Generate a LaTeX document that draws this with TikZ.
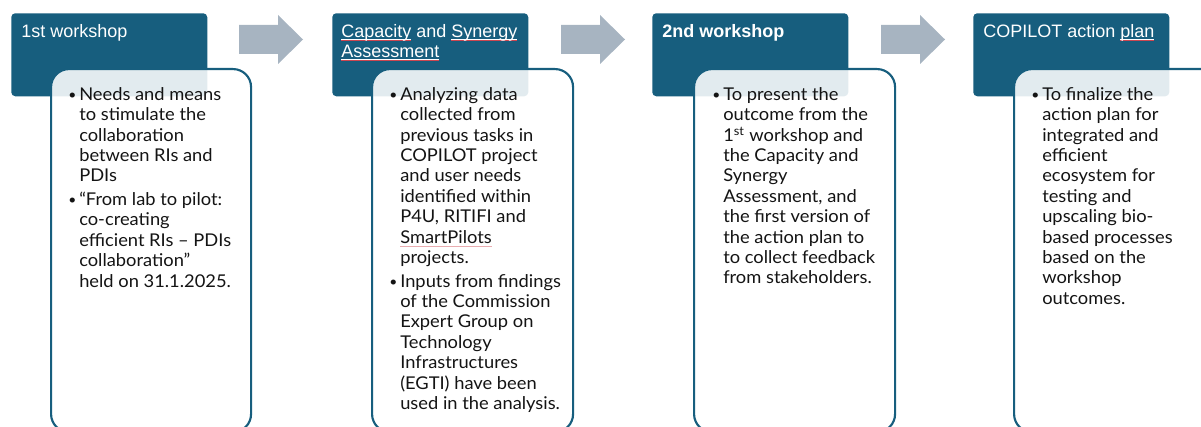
\documentclass[tikz,border=0pt]{standalone}
\usepackage{fontspec}
\setmainfont{Lato}[FakeStretch=1.04]
\newfontfamily\hdrfont{Liberation Sans}
\definecolor{hdrblue}{RGB}{23,94,126}
\definecolor{arrowgrey}{RGB}{167,180,193}
\definecolor{spellred}{RGB}{205,70,80}
\definecolor{bodytext}{RGB}{20,20,20}
\newcommand\hdrul[1]{\setbox0\hbox{#1}\rlap{\color{white}\rule[-1.8pt]{\wd0}{0.6pt}}\rlap{\color{spellred}\rule[-2.8pt]{\wd0}{0.45pt}}\box0\relax}
\newcommand\spellul[1]{\setbox0\hbox{#1}\rlap{\color{spellred!45}\rule[-2.4pt]{\wd0}{0.5pt}}\box0\relax}
\newcommand\bul{\makebox[7.5pt][l]{\hspace*{-0.6pt}{\fontsize{10}{10}\selectfont\raisebox{0.8pt}{\textbullet}}}}
\newcommand\ind{\hspace*{7.5pt}}
\tikzset{
  hdrbox/.style={fill=hdrblue, rounded corners=3pt, inner sep=0pt, minimum width=147pt, minimum height=62.25pt, anchor=north west},
  card/.style={draw=hdrblue, line width=1.6pt, fill=white, fill opacity=0.88, rounded corners=13.5pt, inner sep=0pt, minimum height=272.25pt, anchor=north west},
  hdrtext/.style={anchor=north west, inner sep=0pt, align=left, text=white, font=\hdrfont\fontsize{13.5}{15}\selectfont},
  bodytxt/.style={anchor=north west, inner sep=0pt, align=left, text=bodytext, font=\fontsize{13.2}{15.3}\selectfont},
  blockarrow/.style={fill=arrowgrey}
}
\begin{document}
\begin{tikzpicture}[x=0.75pt,y=-0.75pt]
\path[use as bounding box] (0,0) rectangle (1201,427);
\clip (0,0) rectangle (1201,427);
% headers
\node[hdrbox] (h1) at (11,13) {};
\node[hdrbox] (h2) at (332,13) {};
\node[hdrbox] (h3) at (652,13) {};
\node[hdrbox] (h4) at (973,13) {};
% arrows
\foreach \ox in {0,322,642}{
  \fill[blockarrow] (239+\ox,25) -- (278+\ox,25) -- (278+\ox,15) -- (303+\ox,39.5) -- (278+\ox,64) -- (278+\ox,54) -- (239+\ox,54) -- cycle;
}
% cards
\node[card, minimum width=150pt] (c1) at (50,68) {};
\node[card, minimum width=150.75pt] (c2) at (371,68) {};
\node[card, minimum width=150.75pt] (c3) at (693,68) {};
\node[card, minimum width=155.25pt] (c4) at (1013,68) {};
% header texts
\node[hdrtext] (t1) at (21,23) {\strut 1st workshop};
\node[hdrtext] (t2) at (341,23) {\strut\hdrul{Capacity} and \hdrul{Synergy}\\\hdrul{Assessment}};
\node[hdrtext, font=\hdrfont\bfseries\fontsize{13.5}{15}\selectfont] (t3) at (662,23) {\strut 2nd workshop};
\node[hdrtext] (t4) at (983,23) {\strut COPILOT action \hdrul{plan}};
% body texts
\node[bodytxt] (p1) at (69,85.7) {\strut\bul Needs and means\\
\ind to stimulate the\\
\ind collaboration\\
\ind between RIs and\\
\ind PDIs\\[2.5pt]
\bul “From lab to pilot:\\
\ind co-creating\\
\ind efficient RIs – PDIs\\
\ind collaboration”\\
\ind held on 31.1.2025.};
\node[bodytxt] (p2) at (390,85.7) {\strut\bul Analyzing data\\
\ind collected from\\
\ind previous tasks in\\
\ind COPILOT project\\
\ind and user needs\\
\ind identified within\\
\ind P4U, RITIFI and\\
\ind \spellul{SmartPilots}\\
\ind projects.\\[2.5pt]
\bul Inputs from findings\\
\ind of the Commission\\
\ind Expert Group on\\
\ind Technology\\
\ind Infrastructures\\
\ind (EGTI) have been\\
\ind used in the analysis.};
\node[bodytxt] (p3) at (713,85.7) {\strut\bul To present the\\
\ind outcome from the\\
\ind 1\textsuperscript{st} workshop and\\
\ind the Capacity and\\
\ind Synergy\\
\ind Assessment, and\\
\ind the first version of\\
\ind the action plan to\\
\ind to collect feedback\\
\ind from stakeholders.};
\node[bodytxt] (p4) at (1032,85.7) {\strut\bul To finalize the\\
\ind action plan for\\
\ind integrated and\\
\ind efficient\\
\ind ecosystem for\\
\ind testing and\\
\ind upscaling bio-\\
\ind based processes\\
\ind based on the\\
\ind workshop\\
\ind outcomes.};
\end{tikzpicture}
\end{document}
